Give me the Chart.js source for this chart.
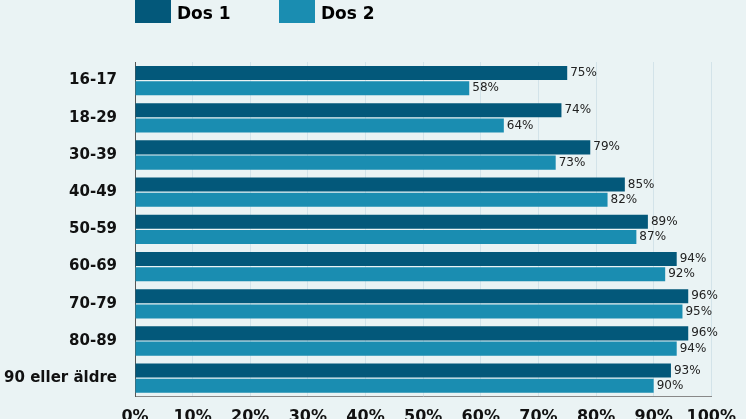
<!DOCTYPE html>
<html><head><meta charset="utf-8">
<script src="https://cdn.jsdelivr.net/npm/chart.js@4"></script>
<style>
html,body{margin:0;padding:0;background:#eaf3f4;overflow:hidden;width:746px;height:419px}
#wrap{position:absolute;left:0;top:0;width:746px;height:436px}
.lg{position:absolute;top:-11px;height:34px;font:bold 17px "DejaVu Sans",sans-serif;display:flex;align-items:flex-end}
.lg span{display:inline-block;width:36px;height:34px;margin-right:6px}
</style></head><body>
<div id="wrap"><canvas id="c"></canvas></div>
<div class="lg" style="left:135px"><span style="background:#03587a"></span>Dos 1</div>
<div class="lg" style="left:279px"><span style="background:#1a8db1"></span>Dos 2</div>
<script>
const categories=["16-17","18-29","30-39","40-49","50-59","60-69","70-79","80-89","90 eller äldre"];
const dos1=[75,74,79,85,89,94,96,96,93];
const dos2=[58,64,73,82,87,92,95,94,90];
const tickLabels=["0%","10%","20%","30%","40%","50%","60%","70%","80%","90%","100%"];
const labelPlugin={id:'lbl',afterDatasetsDraw(ch){const ctx=ch.ctx;ctx.save();ctx.font='12px "DejaVu Sans",sans-serif';ctx.fillStyle='#222';ctx.textBaseline='middle';
ch.data.datasets.forEach((d,i)=>{ch.getDatasetMeta(i).data.forEach((b,j)=>{ctx.fillText(d.data[j]+'%',b.x+3,b.y);});});ctx.restore();}};
new Chart(document.getElementById('c'),{type:'bar',
data:{labels:categories,datasets:[
{label:'Dos 1',data:dos1,backgroundColor:'#03587a',categoryPercentage:0.82,barPercentage:0.92},
{label:'Dos 2',data:dos2,backgroundColor:'#1a8db1',categoryPercentage:0.82,barPercentage:0.92}]},
options:{indexAxis:'y',responsive:true,maintainAspectRatio:false,animation:false,
layout:{padding:{top:62,right:34,left:0,bottom:0}},
plugins:{legend:{display:false},tooltip:{enabled:false}},
scales:{
x:{min:0,max:100,ticks:{stepSize:10,color:'#111',font:{family:'"DejaVu Sans"',weight:'bold',size:16},callback:(v,i)=>tickLabels[i],padding:10},
grid:{color:'#d3e3e9',drawTicks:false},border:{display:true,color:'#888'}},
y:{afterFit(s){s.width=135;},ticks:{color:'#111',padding:10,font:{family:'"DejaVu Sans"',weight:'bold',size:15}},
grid:{display:false},border:{color:'#555'}}}},
plugins:[labelPlugin]});
</script></body></html>
